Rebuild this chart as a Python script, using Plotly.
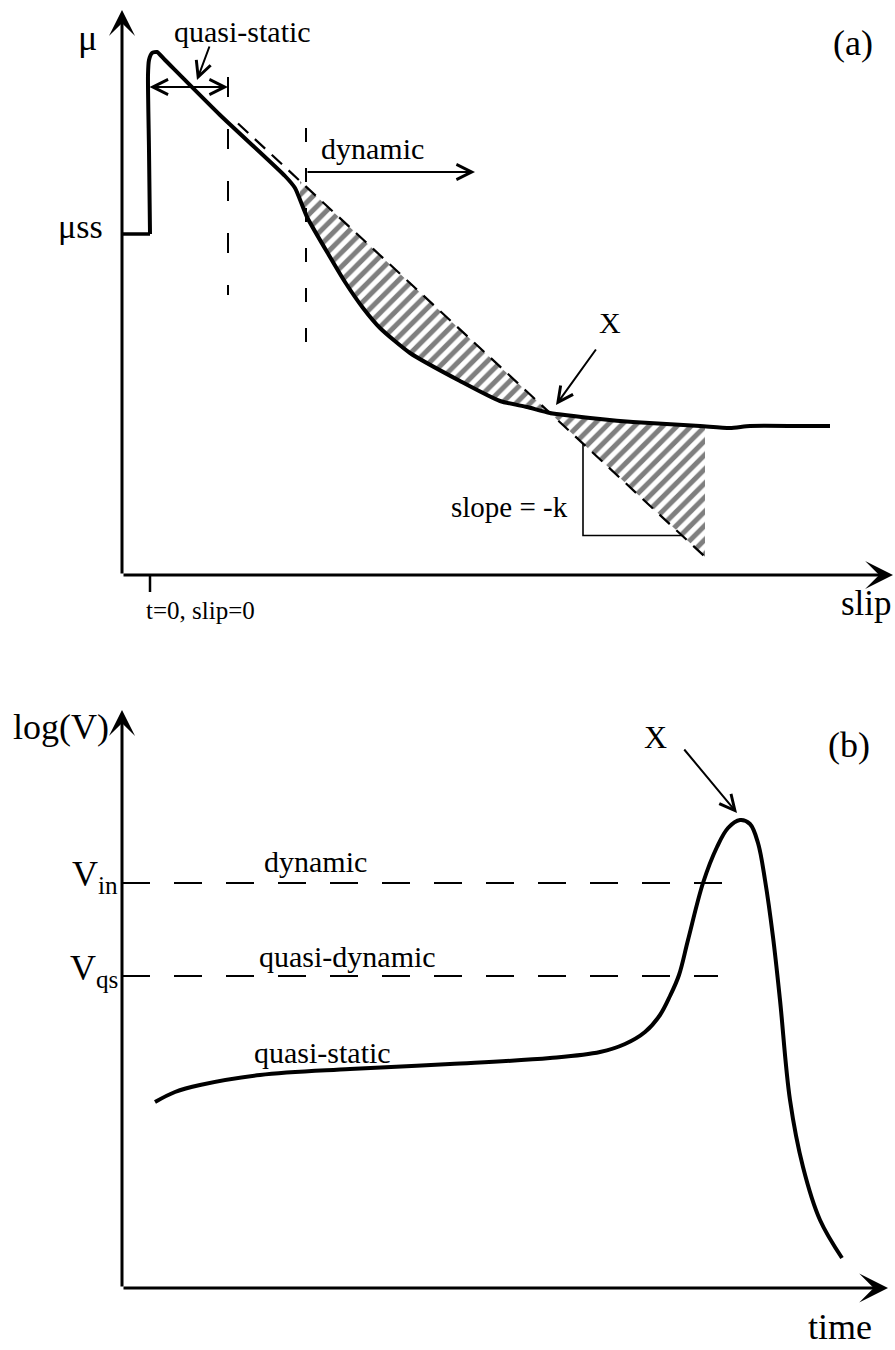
import numpy as np
import plotly.graph_objects as go

# ---------------- panel (a): friction coefficient vs slip (schematic units) ----------------
slip_a = [-28, 0, -1, -2, -1, 2, 7, 15, 70, 135, 145, 157, 180, 195, 213, 230, 260, 310,
          350, 377, 400, 450, 483, 550, 580, 600, 650, 680]
mu_a = [341, 341, 425, 500, 515, 522, 523, 515, 460, 399, 387, 358, 318, 293, 267, 247, 222, 194,
        174, 168, 162, 156, 153, 149, 147, 149, 149, 149]

# linear extension of the quasi-static weakening (slope = -k)
k_line_slip = [88, 555]
k_line_mu = [451.5, 18.2]

# regime boundaries and markers
qs_end_slip = 78          # end of quasi-static regime
dyn_start_slip = 156      # start of dynamic regime
x_point_slip = 400        # point X where curve meets the -k line
hatch_end_slip = 555
slope_marker_slip = [433, 532]

# ---------------- panel (b): log(V) vs time (schematic units) ----------------
time_b = [33, 53, 78, 138, 228, 328, 428, 478, 503, 523, 538, 548, 557, 566, 581, 595, 606, 618,
          628, 636, 643, 651, 658, 668, 681, 698, 720]
logv_b = [186, 196, 203, 213, 219, 224, 230, 236, 244, 256, 273, 292, 313, 348, 405, 441, 460, 468,
          464, 445, 408, 351, 288, 188, 121, 68, 30]
v_in = 405
v_qs = 312
v_in_end = 605
v_qs_end = 596

FONT = "Liberation Serif"
BLACK = "black"

fig = go.Figure()

# monotonic part of the friction curve, used for sampling between points
mono = slice(5, None)
cs = np.array(slip_a[mono], dtype=float)
cm = np.array(mu_a[mono], dtype=float)


def curve_a(s):
    return np.interp(s, cs, cm)


def k_line(s):
    return np.interp(s, k_line_slip, k_line_mu)


# hatched areas between the friction curve and the -k line
s1 = np.linspace(150, x_point_slip, 80)
s2 = np.linspace(x_point_slip, hatch_end_slip, 60)
hatch_x = [np.concatenate([s1, s1[::-1]]), np.concatenate([s2, s2[::-1]])]
hatch_y = [np.concatenate([k_line(s1), curve_a(s1[::-1])]),
           np.concatenate([curve_a(s2), k_line(s2[::-1])])]
for hx, hy in zip(hatch_x, hatch_y):
    fig.add_trace(go.Scatter(
        x=hx, y=hy, mode="lines", fill="toself", line=dict(width=0),
        fillcolor="rgba(0,0,0,0)",
        fillpattern=dict(shape="/", size=10, solidity=0.5, fgcolor=BLACK, bgcolor="white"),
        xaxis="x", yaxis="y", hoverinfo="skip"))

# -k line (dashed)
fig.add_trace(go.Scatter(x=k_line_slip, y=k_line_mu, mode="lines",
                         line=dict(color=BLACK, width=2.2, dash="14px,9px"),
                         xaxis="x", yaxis="y", hoverinfo="skip"))

# regime boundaries (dashed verticals)
fig.add_trace(go.Scatter(x=[qs_end_slip, qs_end_slip], y=[498, 280], mode="lines",
                         line=dict(color=BLACK, width=2, dash="20px,32px"),
                         xaxis="x", yaxis="y", hoverinfo="skip"))
fig.add_trace(go.Scatter(x=[dyn_start_slip, dyn_start_slip], y=[447, 215], mode="lines",
                         line=dict(color=BLACK, width=2, dash="14px,26px"),
                         xaxis="x", yaxis="y", hoverinfo="skip"))

# slope marker
sm_y = k_line(np.array(slope_marker_slip, dtype=float))
fig.add_trace(go.Scatter(x=[slope_marker_slip[0], slope_marker_slip[0], slope_marker_slip[1]],
                         y=[sm_y[0], sm_y[1], sm_y[1]], mode="lines",
                         line=dict(color=BLACK, width=1.6),
                         xaxis="x", yaxis="y", hoverinfo="skip"))

# t=0 tick
fig.add_trace(go.Scatter(x=[0, 0], y=[0, -17], mode="lines", line=dict(color=BLACK, width=2.5),
                         xaxis="x", yaxis="y", hoverinfo="skip"))

# friction curve: steady-state step (straight) and the rest (smooth)
fig.add_trace(go.Scatter(x=slip_a[:2], y=mu_a[:2], mode="lines",
                         line=dict(color=BLACK, width=3.5), xaxis="x", yaxis="y", hoverinfo="skip"))
fig.add_trace(go.Scatter(x=slip_a[1:], y=mu_a[1:], mode="lines",
                         line=dict(color=BLACK, width=4, shape="spline", smoothing=0.6),
                         xaxis="x", yaxis="y", hoverinfo="skip"))

# panel (b): velocity thresholds and log(V) history
fig.add_trace(go.Scatter(x=[0, v_in_end], y=[v_in, v_in], mode="lines",
                         line=dict(color=BLACK, width=2, dash="28px,24px"),
                         xaxis="x2", yaxis="y2", hoverinfo="skip"))
fig.add_trace(go.Scatter(x=[0, v_qs_end], y=[v_qs, v_qs], mode="lines",
                         line=dict(color=BLACK, width=2, dash="28px,24px"),
                         xaxis="x2", yaxis="y2", hoverinfo="skip"))
fig.add_trace(go.Scatter(x=time_b, y=logv_b, mode="lines",
                         line=dict(color=BLACK, width=4, shape="spline", smoothing=1.0),
                         xaxis="x2", yaxis="y2", hoverinfo="skip"))


def arrow(x, y, ax, ay, panel, head=5, size=1.4, width=2, both=False):
    xr, yr = ("x", "y") if panel == "a" else ("x2", "y2")
    d = dict(x=x, y=y, ax=ax, ay=ay, xref=xr, yref=yr, axref=xr, ayref=yr,
             text="", showarrow=True, arrowhead=head, arrowsize=size, arrowwidth=width,
             arrowcolor=BLACK, standoff=0, startstandoff=0)
    if both:
        d.update(arrowside="end+start", startarrowhead=head, startarrowsize=size)
    return d


def label(text, x, y, panel, size=30, xanchor="center", yanchor="middle"):
    xr, yr = ("x", "y") if panel == "a" else ("x2", "y2")
    return dict(text=text, x=x, y=y, xref=xr, yref=yr, showarrow=False,
                font=dict(family=FONT, size=size, color=BLACK),
                xanchor=xanchor, yanchor=yanchor)


annotations = [
    # axes of panel (a)
    arrow(-28, 565, -28, 0, "a", head=3, size=1.45, width=3),
    arrow(743, 0, -28, 0, "a", head=3, size=1.55, width=3),
    # quasi-static span and pointer
    arrow(qs_end_slip, 488, -2, 488, "a", head=5, size=1.5, width=2, both=True),
    arrow(47, 495, 60, 530, "a", head=5, size=1.5, width=2),
    # dynamic arrow
    arrow(325, 403, dyn_start_slip, 403, "a", head=5, size=1.5, width=2),
    # X pointer
    arrow(406, 170, 447, 227, "a", head=5, size=1.5, width=2),
    # axes of panel (b)
    arrow(0, 578, 0, 0, "b", head=3, size=1.45, width=3),
    arrow(766, 0, 0, 0, "b", head=3, size=1.6, width=3),
    # X pointer (b)
    arrow(615, 475, 561, 540, "b", head=5, size=1.5, width=2),

    label("μ", -63, 537, "a", size=36),
    label("μss", -70, 349, "a", size=34),
    label("quasi-static", 92, 544, "a", size=30),
    label("dynamic", 222, 427, "a", size=30),
    label("X", 460, 253, "a", size=30),
    label("slope = -k", 420, 68, "a", size=29, xanchor="right"),
    label("t=0, slip=0", 50, -35, "a", size=25),
    label("slip", 744, -28, "a", size=35, xanchor="right"),
    label("(a)", 703, 532, "a", size=36),

    label("log(V)", -61, 561, "b", size=36),
    label("(b)", 727, 543, "b", size=36),
    label("X", 533, 551, "b", size=32),
    label("V<sub>in</sub>", -2, 411, "b", size=36, xanchor="right"),
    label("V<sub>qs</sub>", -2, 317, "b", size=36, xanchor="right"),
    label("dynamic", 193, 426, "b", size=30),
    label("quasi-dynamic", 225, 331, "b", size=30),
    label("quasi-static", 200, 236, "b", size=30),
    label("time", 752, -61, "b", size=36, xanchor="right", yanchor="bottom"),
]

split = 1 - 650 / 1350
fig.update_layout(
    width=895, height=1350, margin=dict(l=0, r=0, t=0, b=0),
    paper_bgcolor="white", plot_bgcolor="white", showlegend=False,
    xaxis=dict(domain=[0, 1], range=[-150, 745], visible=False, anchor="y"),
    yaxis=dict(domain=[split, 1], range=[-75, 575], visible=False, anchor="x"),
    xaxis2=dict(domain=[0, 1], range=[-122, 773], visible=False, anchor="y2"),
    yaxis2=dict(domain=[0, split], range=[-62, 638], visible=False, anchor="x2"),
    annotations=annotations,
)

fig.write_html("out.html")
